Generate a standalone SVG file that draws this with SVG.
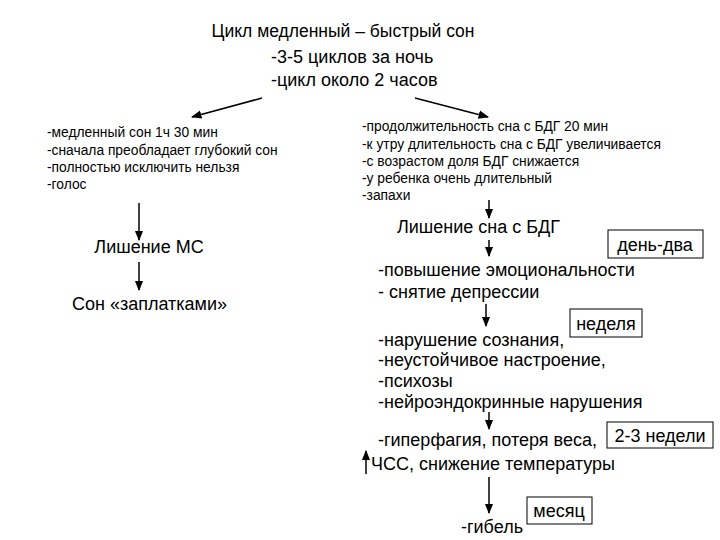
<svg xmlns="http://www.w3.org/2000/svg" width="720" height="540" viewBox="0 0 720 540">
<style>
text{font-family:"Liberation Sans",Arial,sans-serif;fill:#000}
.s{font-size:13.8px}.m{font-size:18px}.l{font-size:17.5px}
.c line{stroke:#000;stroke-width:1.5}
.b{fill:#fff;stroke:#000;stroke-width:1}
</style>
<defs><marker id="a" viewBox="0 0 10 10" refX="9" refY="5" markerWidth="7" markerHeight="7" orient="auto"><path d="M0,1L10,5L0,9z"/></marker></defs>
<rect width="720" height="540" fill="#fff"/>
<g class="c">
<line x1="262" y1="98" x2="192" y2="117" marker-end="url(#a)"/>
<line x1="415" y1="98" x2="488" y2="117" marker-end="url(#a)"/>
<line x1="139" y1="203" x2="139" y2="240" marker-end="url(#a)"/>
<line x1="139" y1="262" x2="139" y2="290" marker-end="url(#a)"/>
<line x1="489" y1="200" x2="489" y2="218" marker-end="url(#a)"/>
<line x1="489" y1="240" x2="489" y2="256" marker-end="url(#a)"/>
<line x1="486" y1="304" x2="486" y2="326" marker-end="url(#a)"/>
<line x1="489" y1="412" x2="489" y2="429" marker-end="url(#a)"/>
<line x1="366" y1="474" x2="366" y2="451" marker-end="url(#a)"/>
<line x1="489" y1="477" x2="489" y2="513" marker-end="url(#a)"/>
</g>
<g id="title"><text class="l" x="343" y="37" text-anchor="middle">Цикл медленный – быстрый сон</text>
<text class="m" x="271" y="63">-3-5 циклов за ночь</text><text class="m" x="271" y="86">-цикл около 2 часов</text></g>
<g id="left"><text class="s" x="47" y="137">-медленный сон 1ч 30 мин</text><text class="s" x="47" y="155">-сначала преобладает глубокий сон</text><text class="s" x="47" y="172">-полностью исключить нельзя</text><text class="s" x="47" y="189">-голос</text></g>
<g id="right"><text class="s" x="362" y="131">-продолжительность сна с БДГ 20 мин</text><text class="s" x="362" y="149">-к утру длительность сна с БДГ увеличивается</text><text class="s" x="362" y="166">-с возрастом доля БДГ снижается</text><text class="s" x="362" y="183">-у ребенка очень длительный</text><text class="s" x="362" y="200">-запахи</text></g>
<g id="ms"><text class="m" x="149" y="253" text-anchor="middle">Лишение МС</text></g>
<g id="patch"><text class="m" x="72" y="310">Сон «заплатками»</text></g>
<g id="bdg"><text class="m" x="397" y="233">Лишение сна с БДГ</text></g>
<g id="d1"><rect class="b" x="608" y="230" width="95" height="28"/><text class="m" x="655" y="251" text-anchor="middle">день-два</text></g>
<g id="e1"><text class="m" x="378" y="276">-повышение эмоциональности</text><text class="m" x="378" y="298">- снятие депрессии</text></g>
<g id="d2"><rect class="b" x="570" y="309" width="72" height="28"/><text class="m" x="606" y="330" text-anchor="middle">неделя</text></g>
<g id="e2"><text class="m" x="378" y="346">-нарушение сознания,</text><text class="m" x="378" y="366">-неустойчивое настроение,</text><text class="m" x="378" y="387">-психозы</text><text class="m" x="378" y="408">-нейроэндокринные нарушения</text></g>
<g id="d3"><rect class="b" x="607" y="422" width="106" height="26"/><text class="m" x="660" y="442" text-anchor="middle">2-3 недели</text></g>
<g id="e3"><text class="m" x="378" y="446">-гиперфагия, потеря веса,</text><text class="m" x="371" y="470">ЧСС, снижение температуры</text></g>
<g id="d4"><rect class="b" x="527" y="497" width="65" height="27"/><text class="m" x="559" y="517" text-anchor="middle">месяц</text></g>
<g id="e4"><text class="m" x="461" y="533">-гибель</text></g>
</svg>
